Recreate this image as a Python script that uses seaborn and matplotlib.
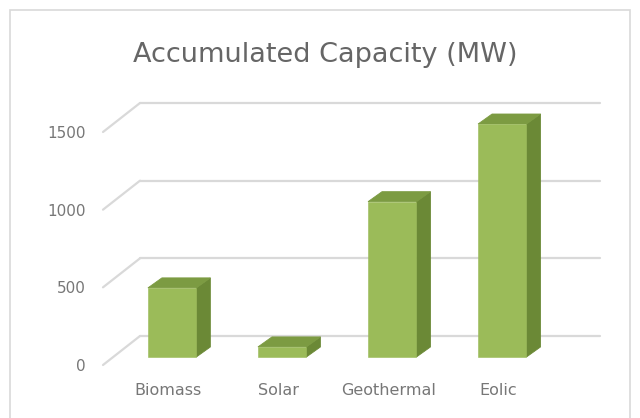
import numpy as np
import pandas as pd
import matplotlib
matplotlib.use("Agg")
import matplotlib.pyplot as plt
import seaborn as sns
from matplotlib.patches import Polygon, Rectangle
from matplotlib.lines import Line2D
from matplotlib import transforms

# values
sources = ["Biomass", "Solar", "Geothermal", "Eolic"]
capacity_mw = [445, 65, 1000, 1500]
y_ticks = [0, 500, 1000, 1500]

sns.set_theme(style="white")
plt.rcParams["font.family"] = ["DejaVu Sans"]

data_df = pd.DataFrame({"source": sources, "capacity": capacity_mw})

fig = plt.figure(figsize=(6.4, 4.18), dpi=100)
# axes = plane of the bar fronts
ax = fig.add_axes([105 / 640, (418 - 357) / 418, 460 / 640, 233 / 418])

front = "#9bbb59"
side = "#6b8936"
top = "#7c9b42"
txt = "#777777"

sns.barplot(data=data_df, x="source", y="capacity", color=front, saturation=1,
            width=0.44, ax=ax, zorder=3)
ax.set_xlim(-0.61, 3.57)
ax.set_ylim(0, 1500)

# depth of the 3d boxes (pixels) -> data units
dx = 14 / 110
dy = 10 * 1500 / 233
for p in list(ax.patches):
    x0, w, h = p.get_x(), p.get_width(), p.get_height()
    x1 = x0 + w
    ax.add_patch(Polygon([(x1, 0), (x1 + dx, dy), (x1 + dx, h + dy), (x1, h)],
                         closed=True, facecolor=side, edgecolor=side, lw=0.6,
                         zorder=2.9, clip_on=False))
    ax.add_patch(Polygon([(x0, h), (x0 + dx, h + dy), (x1 + dx, h + dy), (x1, h)],
                         closed=True, facecolor=top, edgecolor=top, lw=0.6,
                         zorder=2.9, clip_on=False))
    p.set_edgecolor(front)
    p.set_linewidth(0.4)
    p.set_clip_on(False)

# back wall grid lines, pushed back in depth
back = transforms.offset_copy(ax.get_yaxis_transform(), fig=fig, x=35, y=21, units="dots")
for v in y_ticks:
    ax.plot([0, 1], [v, v], color="#d9d9d9", lw=1.6, transform=back, clip_on=False, zorder=1)

ax.grid(False)
for s in ax.spines.values():
    s.set_visible(False)
ax.set_yticks(y_ticks)
ax.set_xlabel("")
ax.set_ylabel("")
ax.tick_params(axis="y", length=0, pad=14, labelsize=11, labelcolor=txt)
ax.tick_params(axis="x", length=0, pad=19, labelsize=11.5, labelcolor=txt)
for lab in ax.get_xticklabels():
    lab.set_transform(lab.get_transform() + transforms.ScaledTranslation(-4 / 100, 0, fig.dpi_scale_trans))
for lab in ax.get_yticklabels():
    lab.set_transform(lab.get_transform() + transforms.ScaledTranslation(0, -8 / 100, fig.dpi_scale_trans))

fig.canvas.draw()
# short diagonal side-wall lines joining front and back
for v in y_ticks:
    px, py = ax.get_yaxis_transform().transform((0, v))
    fig.add_artist(Line2D([px - 2, px + 35], [py - 8, py + 21], transform=None,
                          color="#d9d9d9", lw=1.6, zorder=1))

fig.text(325 / 640, 1 - 62 / 418, "Accumulated Capacity (MW)", ha="center", va="baseline",
         fontsize=19.5, color="#666666")

# chart border
fig.add_artist(Rectangle((10 / 640, -0.02), 620 / 640, 1 - 10 / 418 + 0.02,
                         transform=fig.transFigure, fill=False, edgecolor="#d9d9d9", lw=1.2))

fig.savefig("out.png", dpi=100)
